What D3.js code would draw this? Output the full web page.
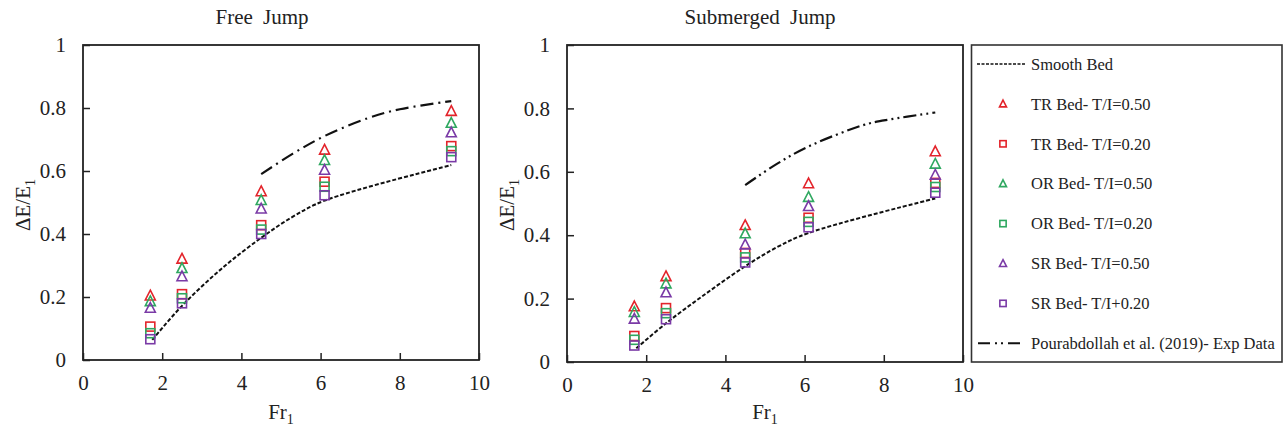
<!DOCTYPE html>
<html>
<head>
<meta charset="utf-8">
<script src="https://cdn.jsdelivr.net/npm/d3@7"></script>
<style>
  body { margin: 0; background: #fff; }
</style>
</head>
<body>
<svg id="canvas"></svg>
<script>
let width = 1284
let height = 428
let serif = '"Liberation Serif", "Times New Roman", "DejaVu Serif", serif'

// Froude numbers used in the tests
let fr = [1.7, 2.5, 4.5, 6.1, 9.3]

// free jump, energy loss dE/E1
let freeTR50 = [0.204, 0.321, 0.535, 0.667, 0.790]
let freeTR20 = [0.106, 0.209, 0.428, 0.566, 0.679]
let freeOR50 = [0.186, 0.291, 0.507, 0.634, 0.752]
let freeOR20 = [0.085, 0.196, 0.414, 0.550, 0.663]
let freeSR50 = [0.165, 0.265, 0.480, 0.603, 0.722]
let freeSR20 = [0.066, 0.180, 0.400, 0.523, 0.644]
let freeSmoothX = [1.75, 2.5, 3.5, 4.5, 5.3, 6.1, 9.3]
let freeSmoothY = [0.064, 0.172, 0.29, 0.388, 0.455, 0.506, 0.619]
let freeExpX = [4.5, 5.3, 6.1, 7.2, 8.0, 9.3]
let freeExpY = [0.590, 0.655, 0.711, 0.768, 0.796, 0.822]

// submerged jump
let subTR50 = [0.175, 0.270, 0.431, 0.563, 0.664]
let subTR20 = [0.082, 0.170, 0.344, 0.455, 0.565]
let subOR50 = [0.157, 0.247, 0.405, 0.520, 0.625]
let subOR20 = [0.070, 0.154, 0.330, 0.442, 0.552]
let subSR50 = [0.136, 0.219, 0.370, 0.491, 0.590]
let subSR20 = [0.052, 0.135, 0.314, 0.425, 0.534]
let subSmoothX = [1.75, 2.5, 3.5, 4.5, 5.3, 6.1, 9.3]
let subSmoothY = [0.043, 0.122, 0.215, 0.302, 0.362, 0.407, 0.516]
let subExpX = [4.5, 5.3, 6.1, 7.5, 8.0, 9.3]
let subExpY = [0.558, 0.625, 0.680, 0.748, 0.762, 0.787]

let xTicks = [0, 2, 4, 6, 8, 10]
let yTicks = [0, 0.2, 0.4, 0.6, 0.8, 1]

let seriesNames = ['TR Bed- T/I=0.50', 'TR Bed- T/I=0.20', 'OR Bed- T/I=0.50',
                   'OR Bed- T/I=0.20', 'SR Bed- T/I=0.50', 'SR Bed- T/I+0.20']
let seriesColors = ['#e3242b', '#e3242b', '#2fa860', '#2fa860', '#7a3aa6', '#7a3aa6']
let seriesShapes = ['tri', 'sq', 'tri', 'sq', 'tri', 'sq']

let smoothName = 'Smooth Bed'
let expName = 'Pourabdollah et al. (2019)- Exp Data'

let canvas = d3.select('#canvas')
canvas.attr('width', width).attr('height', height)

let drawMarker = (g, shape, color, x, y, s) => {
    if (shape == 'tri') {
        g.append('path')
            .attr('d', 'M' + x + ',' + (y - s * 0.55) + 'L' + (x + s * 0.5) + ',' + (y + s * 0.42) +
                'L' + (x - s * 0.5) + ',' + (y + s * 0.42) + 'Z')
            .attr('fill', 'none').attr('stroke', color).attr('stroke-width', 1.6)
    } else {
        g.append('rect')
            .attr('x', x - s * 0.45).attr('y', y - s * 0.45)
            .attr('width', s * 0.9).attr('height', s * 0.9)
            .attr('fill', 'none').attr('stroke', color).attr('stroke-width', 1.6)
    }
}

let drawPanel = (opts) => {
    let xScale = d3.scaleLinear().domain([0, 10]).range([opts.left, opts.right])
    let yScale = d3.scaleLinear().domain([0, 1]).range([opts.bottom, opts.top])
    let g = canvas.append('g')

    // frame
    g.append('rect')
        .attr('x', opts.left).attr('y', opts.top)
        .attr('width', opts.right - opts.left).attr('height', opts.bottom - opts.top)
        .attr('fill', 'none').attr('stroke', '#222').attr('stroke-width', 1.8)

    let xAxis = d3.axisBottom(xScale).tickValues(xTicks).tickSize(-7).tickPadding(15)
        .tickFormat(d3.format('d'))
    let yAxis = d3.axisLeft(yScale).tickValues(yTicks).tickSize(-7).tickPadding(17)
        .tickFormat((d) => d == 0 || d == 1 ? d3.format('d')(d) : d3.format('.1f')(d))
    let gx = g.append('g').attr('transform', 'translate(0,' + opts.bottom + ')').call(xAxis)
    let gy = g.append('g').attr('transform', 'translate(' + opts.left + ',0)').call(yAxis)
    for (let ax of [gx, gy]) {
        ax.attr('font-family', null).attr('font-size', null)
        ax.select('.domain').remove()
        ax.selectAll('line').attr('stroke', '#222').attr('stroke-width', 1.5)
        ax.selectAll('text').style('font-family', serif).style('font-size', '21px').attr('fill', '#222')
    }
    gx.selectAll('text').attr('dy', '0.71em')

    // lines
    let line = d3.line().x((d) => xScale(d[0])).y((d) => yScale(d[1])).curve(d3.curveCatmullRom)
    g.append('path')
        .attr('d', line(opts.smoothX.map((x, i) => [x, opts.smoothY[i]])))
        .attr('fill', 'none').attr('stroke', '#111').attr('stroke-width', 2)
        .attr('stroke-dasharray', '4,2')
    g.append('path')
        .attr('d', line(opts.expX.map((x, i) => [x, opts.expY[i]])))
        .attr('fill', 'none').attr('stroke', '#111').attr('stroke-width', 2.2)
        .attr('stroke-dasharray', opts.expDash)

    // markers
    opts.series.forEach((vals, k) => {
        vals.forEach((v, i) => {
            drawMarker(g, seriesShapes[k], seriesColors[k], xScale(fr[i]), yScale(v), 10)
        })
    })

    // titles
    g.append('text').attr('x', opts.titleX).attr('y', 24)
        .attr('text-anchor', 'middle').style('font-family', serif).style('font-size', '21px')
        .style('word-spacing', '5px').attr('fill', '#222')
        .text(opts.title)
    let xl = g.append('text').attr('x', (opts.left + opts.right) / 2).attr('y', 419)
        .attr('text-anchor', 'middle').style('font-family', serif).style('font-size', '21px')
        .attr('fill', '#222')
    xl.append('tspan').text('Fr')
    xl.append('tspan').attr('dy', 5).style('font-size', '14px').text('1')
    let yl = g.append('text')
        .attr('transform', 'translate(' + (opts.left - 53) + ',' + 205 + ') rotate(-90)')
        .attr('text-anchor', 'middle').style('font-family', serif).style('font-size', '21px')
        .attr('fill', '#222')
    yl.append('tspan').text('\u0394E/E')
    yl.append('tspan').attr('dy', 5).style('font-size', '14px').text('1')
}

drawPanel({
    left: 83, right: 479, top: 45, bottom: 360, titleX: 262, title: 'Free Jump',
    series: [freeTR50, freeTR20, freeOR50, freeOR20, freeSR50, freeSR20],
    smoothX: freeSmoothX, smoothY: freeSmoothY, expX: freeExpX, expY: freeExpY,
    expDash: '13,5,2,5'
})
drawPanel({
    left: 567, right: 963, top: 45, bottom: 362, titleX: 760, title: 'Submerged Jump',
    series: [subTR50, subTR20, subOR50, subOR20, subSR50, subSR20],
    smoothX: subSmoothX, smoothY: subSmoothY, expX: subExpX, expY: subExpY,
    expDash: '13,4,2,4,2,4'
})

// legend
let legend = canvas.append('g')
legend.append('rect')
    .attr('x', 971.5).attr('y', 45).attr('width', 310.5).attr('height', 317)
    .attr('fill', 'none').attr('stroke', '#333').attr('stroke-width', 1.6)
let rowY = (i) => 64 + i * 39.9
let legendText = (y, txt) => {
    legend.append('text').attr('x', 1031).attr('y', y).attr('dy', '0.35em')
        .style('font-family', serif).style('font-size', '16.5px').attr('fill', '#222').text(txt)
}
legend.append('line')
    .attr('x1', 977).attr('x2', 1026).attr('y1', rowY(0)).attr('y2', rowY(0))
    .attr('stroke', '#111').attr('stroke-width', 1.6).attr('stroke-dasharray', '3,1.5')
legendText(rowY(0), smoothName)
seriesNames.forEach((name, k) => {
    drawMarker(legend, seriesShapes[k], seriesColors[k], 1003, rowY(k + 1), 7)
    legendText(rowY(k + 1), name)
})
legend.append('line')
    .attr('x1', 978).attr('x2', 1025).attr('y1', rowY(7)).attr('y2', rowY(7))
    .attr('stroke', '#111').attr('stroke-width', 2).attr('stroke-dasharray', '12,5,2,4,2,5,12')
legendText(rowY(7), expName)
</script>
</body>
</html>
